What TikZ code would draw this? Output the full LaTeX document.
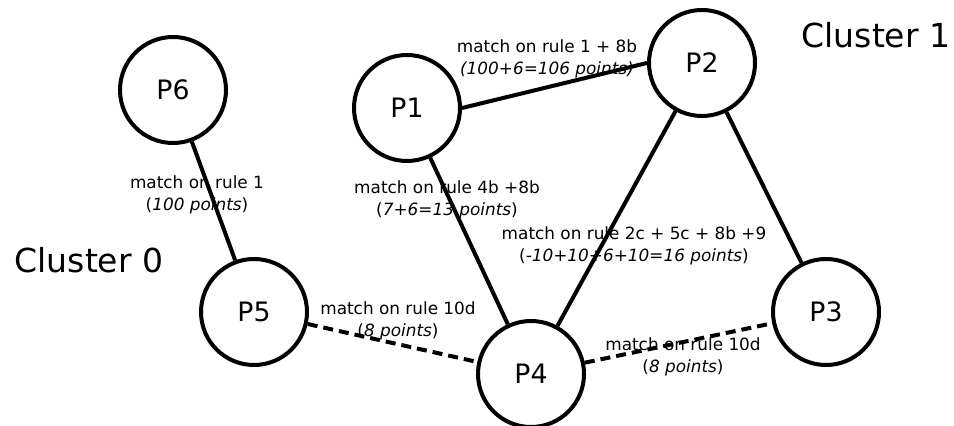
\documentclass[tikz,border=0pt]{standalone}
\usepackage{fontspec}
\setmainfont{DejaVu Sans}
\usepackage{tikz}
\usetikzlibrary{arrows.meta}

\begin{document}
\begin{tikzpicture}[
  peer/.style={draw, circle, line width=1mm, minimum size=2.65cm, inner sep=0pt, font=\fontsize{19}{22}\selectfont},
  match/.style={align=center, inner sep=0pt, font=\fontsize{12}{15.5}\selectfont},
  cluster/.style={inner sep=0pt, font=\fontsize{23.5}{28}\selectfont},
  link/.style={line width=1mm},
  weak/.style={line width=1mm, dash pattern=on 2.5mm off 1.5mm}
]
\useasboundingbox (0,0) rectangle (23.85,10.625);
% peers
\node[peer] (P6) at (4.325, 8.375) {P6};
\node[peer] (P1) at (10.175, 7.925) {P1};
\node[peer] (P2) at (17.55, 9.05) {P2};
\node[peer] (P5) at (6.35, 2.825) {P5};
\node[peer] (P4) at (13.275, 1.275) {P4};
\node[peer] (P3) at (20.65, 2.825) {P3};
% clusters
\node[cluster] (c0) at (2.225, 4.125) {Cluster 0};
\node[cluster] (c1) at (21.9, 9.75) {Cluster 1};
% connections
\draw[link] (P6) -- (P5);
\draw[link] (P1.east) -- (P2.west);
\draw[link] (P1) -- (P4);
\draw[link] (P2) -- (P4);
\draw[link] (P2) -- (P3);
\draw[weak] (P5) -- (P4);
\draw[weak] (P4) -- (P3);
% scores
\node[match] (m65) at (4.925, 5.75) {match on rule 1\\(\textit{100 points})};
\node[match] (m12) at (13.675, 9.15) {match on rule 1 + 8b\\\textit{(100+6=106 points)}};
\node[match] (m14) at (11.175, 5.625) {match on rule 4b +8b\\(\textit{7+6=13 points})};
\node[match] (m24) at (15.85, 4.475) {match on rule 2c + 5c + 8b +9\\(\textit{-10+10+6+10=16 points})};
\node[match] (m54) at (9.95, 2.6) {match on rule 10d\\(\textit{8 points})};
\node[match] (m43) at (17.075, 1.7) {match on rule 10d\\(\textit{8 points})};
\end{tikzpicture}
\end{document}
